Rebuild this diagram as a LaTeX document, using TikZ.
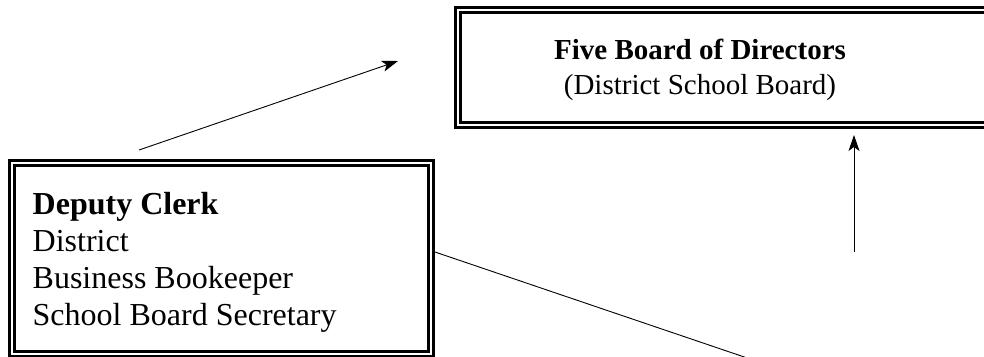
\documentclass[tikz,border=0pt]{standalone}
\usepackage{fontspec}
\setmainfont{Liberation Serif}
\usetikzlibrary{arrows.meta}
\begin{document}
\begin{tikzpicture}[x=1pt,y=-1pt,
  dbox/.style={draw, line width=3pt, double=white, double distance=2pt, rectangle, inner sep=0pt},
  conn/.style={line width=0.9pt},
  arr/.style={conn, -{Stealth[length=16pt,width=11pt,inset=4pt]}}]
\useasboundingbox (0,0) rectangle (984,356);
\clip (0,0) rectangle (984,356);
\fill[white] (0,0) rectangle (984,356);
% boxes
\node[dbox, minimum width=537pt, minimum height=115pt] (board) at (726.5,67) {};
\node[dbox, minimum width=419pt, minimum height=191.25pt] (clerk) at (221.5,258.4) {};
% texts
\node[anchor=base, inner sep=0pt, align=center, font=\fontsize{29}{35}\selectfont] (boardtxt) at (700,94)
  {\textbf{Five Board of Directors}\\(District School Board)};
\node[anchor=base west, inner sep=0pt, align=left, font=\fontsize{32}{37}\selectfont] (clerktxt) at (32.5,325)
  {\textbf{Deputy Clerk}\\District\\Business Bookeeper\\School Board Secretary};
% connectors
\coordinate (a1) at (139,150);
\coordinate (a2) at (398,61);
\draw[arr] (a1) -- (a2);
\coordinate (b1) at (854,252);
\coordinate (b2) at (854,135);
\draw[arr] (b1) -- (b2);
\coordinate (c1) at (432,251);
\coordinate (c2) at (759,362);
\draw[conn] (c1) -- (c2);
\end{tikzpicture}
\end{document}
